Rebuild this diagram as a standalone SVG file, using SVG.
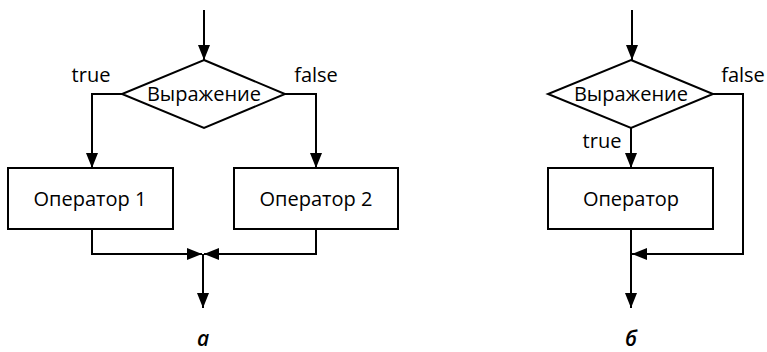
<svg xmlns="http://www.w3.org/2000/svg" width="767" height="352" viewBox="0 0 767 352">
  <style>
    .shape { fill: #fff; stroke: #000; stroke-width: 2; }
    .wire { fill: none; stroke: #000; stroke-width: 2; }
    .lbl { font-family: "Open Sans", "Noto Sans", sans-serif; font-size: 20px; font-weight: 500; fill: #000; text-anchor: middle; }
    .cap { font-family: "Open Sans", "Noto Sans", sans-serif; font-size: 21px; font-style: italic; font-weight: 600; fill: #000; text-anchor: middle; }
  </style>
  <defs>
    <marker id="arrow" markerUnits="userSpaceOnUse" markerWidth="16" markerHeight="12" viewBox="0 0 16 12" refX="15" refY="6" orient="auto">
      <path d="M0,0 L15,6 L0,12 Z" fill="#000"/>
    </marker>
  </defs>

  <rect width="767" height="352" fill="#fff"/>

  <!-- connectors -->
  <g id="connectors" class="wire">
    <!-- branch (a) -->
    <path d="M204,10 V60" marker-end="url(#arrow)"/>
    <path d="M122,94 H92 V168" marker-end="url(#arrow)"/>
    <path d="M285,94 H316 V168" marker-end="url(#arrow)"/>
    <path d="M92,229 V254 H202" marker-end="url(#arrow)"/>
    <path d="M316,229 V254 H204" marker-end="url(#arrow)"/>
    <path d="M203,254 V308" marker-end="url(#arrow)"/>
    <!-- branch (б) -->
    <path d="M632,10 V60" marker-end="url(#arrow)"/>
    <path d="M631,128 V168" marker-end="url(#arrow)"/>
    <path d="M713,94 H743 V254 H632" marker-end="url(#arrow)"/>
    <path d="M631,229 V308" marker-end="url(#arrow)"/>
  </g>

  <!-- diagram (a) -->
  <g id="cond-a">
    <polygon class="shape" points="204,60 285,94 204,128 122,94"/>
    <text class="lbl" x="204" y="101">Выражение</text>
  </g>
  <g id="true-a">
    <text class="lbl" x="91" y="82">true</text>
  </g>
  <g id="false-a">
    <text class="lbl" x="316" y="82">false</text>
  </g>
  <g id="op1">
    <rect class="shape" x="8" y="168" width="165" height="61"/>
    <text class="lbl" x="90" y="206">Оператор 1</text>
  </g>
  <g id="op2">
    <rect class="shape" x="234" y="168" width="164" height="61"/>
    <text class="lbl" x="316" y="206">Оператор 2</text>
  </g>
  <g id="caption-a">
    <text class="cap" x="203" y="346">а</text>
  </g>

  <!-- diagram (б) -->
  <g id="cond-b">
    <polygon class="shape" points="631,60 713,94 631,128 548,94"/>
    <text class="lbl" x="631" y="101">Выражение</text>
  </g>
  <g id="false-b">
    <text class="lbl" x="743" y="82">false</text>
  </g>
  <g id="true-b">
    <text class="lbl" x="602" y="148">true</text>
  </g>
  <g id="op">
    <rect class="shape" x="548" y="168" width="165" height="61"/>
    <text class="lbl" x="631" y="206">Оператор</text>
  </g>
  <g id="caption-b">
    <text class="cap" x="631" y="346">б</text>
  </g>
</svg>
